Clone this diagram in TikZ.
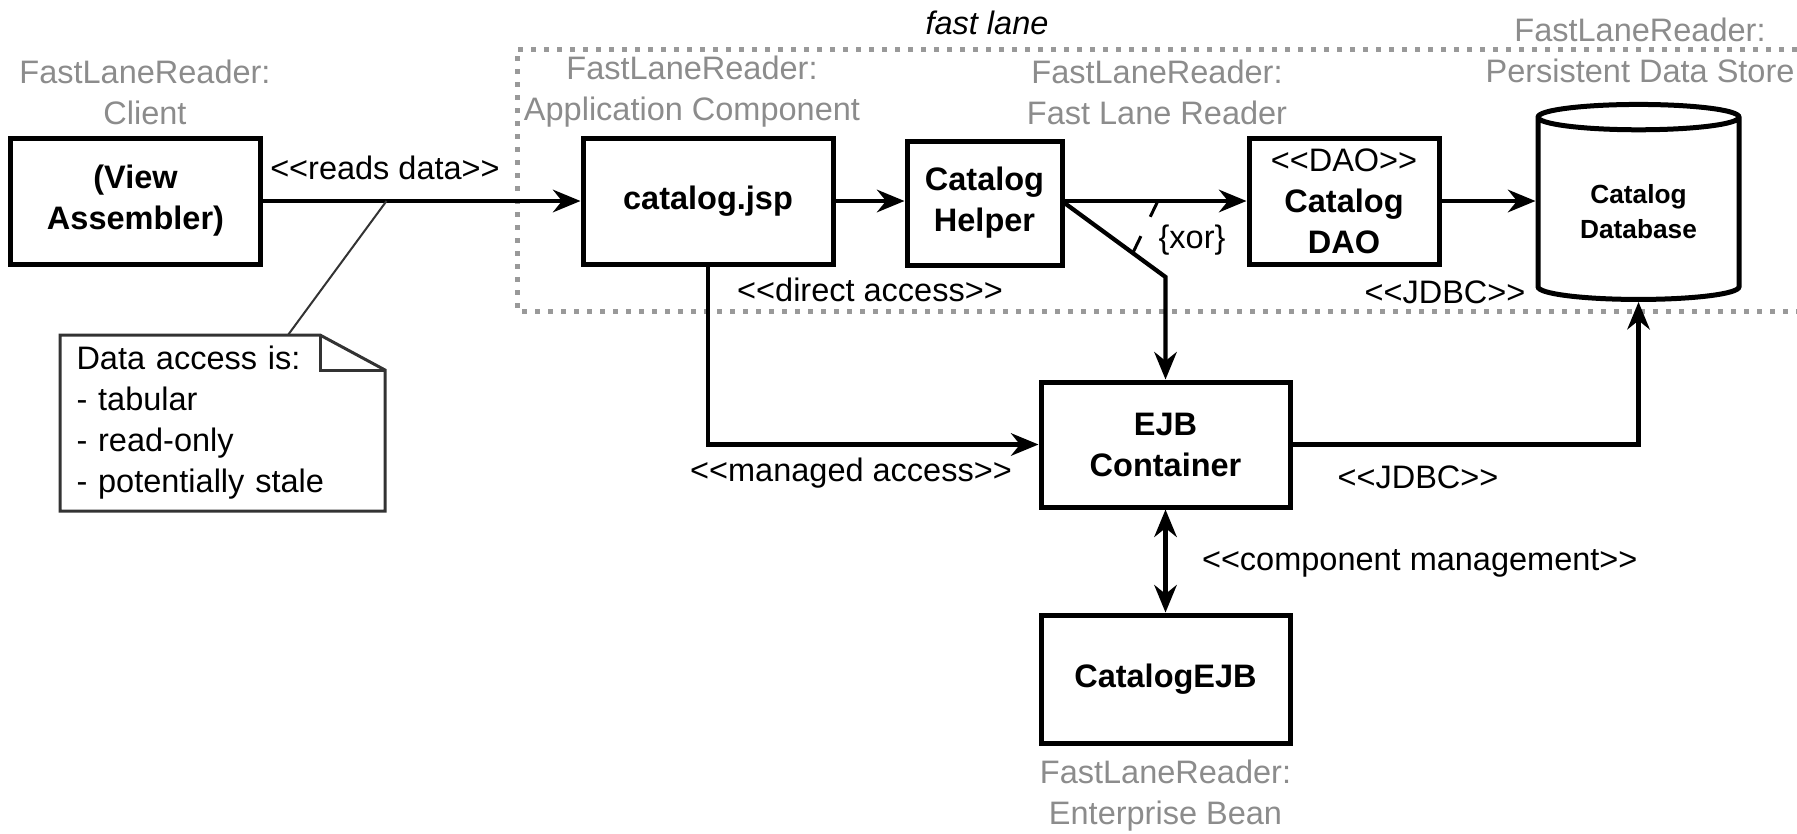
\documentclass[tikz,border=0pt]{standalone}
\usepackage{fontspec}
\setmainfont{Liberation Sans}
\usepackage{tikz}
\usetikzlibrary{arrows.meta}
\usetikzlibrary{shapes.geometric}
\usetikzlibrary{calc}
\newcommand{\sttype}[1]{<{}<#1>{}>}

\begin{document}
\begin{tikzpicture}[x=0.4pt, y=-0.4pt,
  font=\fontsize{13}{16.4}\selectfont,
  >={Stealth[length=11pt, width=9pt]},
  comp/.style={draw, line width=2pt, fill=white, align=center, inner sep=2pt,
    font=\fontsize{13}{16.4}\selectfont\bfseries},
  role/.style={text=black!45, align=center, inner sep=1pt},
  stereo/.style={inner sep=1pt},
  flow/.style={line width=1.7pt, ->},
  lane/.style={draw=black!40, line width=2pt, dash pattern=on 2pt off 3.2pt},
  notebox/.style={align=left, inner xsep=6.4pt, inner ysep=3pt},
  noteline/.style={draw=black!80, line width=1.2pt},
  xorline/.style={line width=1.2pt, dash pattern=on 7pt off 8.6pt}
  ]
  \useasboundingbox (0,0) rectangle (1797,833);

  \draw[lane] (1797,49) -| (517,311) -- (1797,311);
  \node[font=\fontsize{13}{16.4}\selectfont\itshape] (lanelabel) at (987,23) {fast lane};

  \node[comp, minimum width=99.6pt, minimum height=50.4pt] (va) at (135.5,201) {(View\\Assembler)};
  \node[comp, minimum width=100pt, minimum height=50.4pt] (jsp) at (708,201) {catalog.jsp};
  \node[comp, minimum width=62pt, minimum height=49.6pt] (helper) at (984.5,203) {Catalog\\Helper};
  \node[comp, minimum width=76pt, minimum height=50.4pt] (dao) at (1344,201) {{\mdseries \sttype{DAO}}\\Catalog\\DAO};
  \node[comp, cylinder, shape border rotate=90, aspect=0.2, minimum width=80.4pt, minimum height=78pt,
    font=\fontsize{10.5}{14}\selectfont\bfseries] (db) at (1638.5,211.5) {Catalog\\Database};
  \node[comp, minimum width=99.6pt, minimum height=50pt] (ejb) at (1165.5,444.5) {EJB\\Container};
  \node[comp, minimum width=99.6pt, minimum height=51.2pt] (cejb) at (1165.5,679) {CatalogEJB};

  \node[role] (vaRole) at (145,92) {FastLaneReader:\\Client};
  \node[role] (jspRole) at (692,92) {FastLaneReader:\\Application Component};
  \node[role] (helperRole) at (1157,92) {FastLaneReader:\\Fast Lane Reader};
  \node[role] (dbRole) at (1640,50) {FastLaneReader:\\Persistent Data Store};
  \node[role] (cejbRole) at (1165.5,796) {FastLaneReader:\\Enterprise Bean};

  \coordinate (xorbend) at (1165.5,277);
  \draw[flow] (va) -- coordinate[pos=0.39] (rd) (jsp);
  \draw[flow] (jsp) -- (jsp.east -| helper.west);
  \draw[flow] (helper.east |- dao.west) -- coordinate[pos=0.513] (xa) (dao);
  \draw[flow] (helper.east) -- coordinate[pos=0.676] (xb) (xorbend) -- (ejb.north);
  \draw[xorline] (xa) -- (xb);
  \draw[flow] (dao.east) -- (dao.east -| db.west);
  \draw[flow] (jsp.south) |- (ejb.west);
  \draw[flow] (ejb.east) -| (db.south);
  \draw[line width=1.7pt, <->] (ejb) -- (cejb);

  \node[stereo] (readsLabel) at (385,168) {\sttype{reads data}};
  \node[stereo] (directLabel) at (870,290) {\sttype{direct access}};
  \node[stereo] (jdbcUp) at (1445,292) {\sttype{JDBC}};
  \node[stereo] (xorLabel) at (1192,240) {\{xor\}};
  \node[stereo] (managedLabel) at (851,473) {\sttype{managed access}};
  \node[stereo] (jdbcDown) at (1418,477) {\sttype{JDBC}};
  \node[stereo, anchor=west] (mgmtLabel) at (1199,563) {\sttype{component management}};

  \node[notebox, anchor=north west, minimum width=129.6pt, minimum height=70pt, text width=116.8pt]
    (note) at (60,335) {Data access is:\\- tabular\\- read-only\\- potentially stale};
  \draw[noteline] (note.north west) -- ($(note.north east)+(-65,0)$) -- ($(note.north east)+(0,35)$)
    -- (note.south east) -- (note.south west) -- cycle;
  \draw[noteline] ($(note.north east)+(-65,0)$) |- ($(note.north east)+(0,35)$);
  \draw[line width=0.8pt, black!80] ($(note.north west)+(228,0)$) -- (rd);
\end{tikzpicture}
\end{document}
